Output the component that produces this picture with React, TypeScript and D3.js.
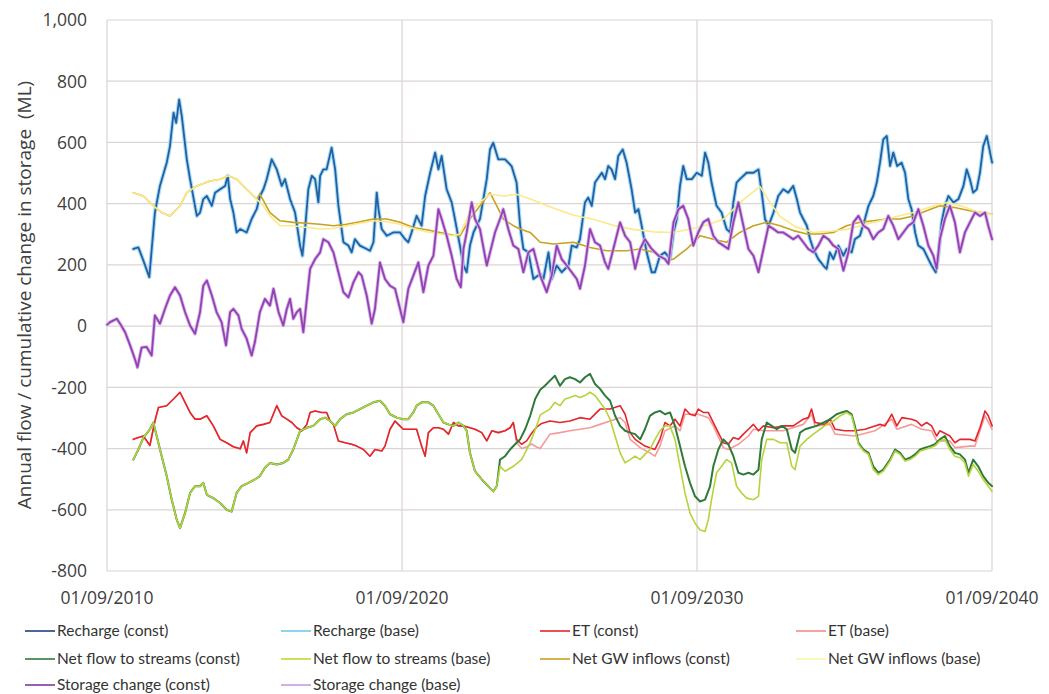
import * as d3 from 'd3';

type Pt = [number, number]; // [decimal year, ML]

// Recharge — the two scenarios overlap almost exactly
const rechargeConst: Pt[] = [
  [2011.56,252],[2011.73,257],[2011.90,214],[2012.10,160],[2012.29,371],[2012.46,458],[2012.69,534],[2012.80,588],[2012.92,697],[2013.01,664],[2013.11,740],[2013.20,686],[2013.37,545],[2013.48,480],[2013.71,360],[2013.82,371],[2013.93,415],[2014.05,425],[2014.22,393],[2014.33,436],[2014.50,447],[2014.67,458],[2014.76,491],[2014.84,415],[2014.95,371],[2015.06,306],[2015.18,317],[2015.40,306],[2015.57,350],[2015.74,382],[2015.85,425],[2015.97,447],[2016.08,480],[2016.25,545],[2016.42,512],[2016.59,458],[2016.70,480],[2016.87,415],[2017.04,371],[2017.21,263],[2017.29,230],[2017.38,317],[2017.49,447],[2017.61,491],[2017.72,480],[2017.83,404],[2017.89,491],[2018.00,512],[2018.11,512],[2018.28,583],[2018.40,512],[2018.51,393],[2018.68,274],[2018.85,263],[2018.96,241],[2019.07,284],[2019.24,263],[2019.47,252],[2019.58,246],[2019.70,274],[2019.81,436],[2019.87,382],[2019.98,317],[2020.15,295],[2020.37,306],[2020.60,306],[2020.77,284],[2020.88,274],[2020.99,306],[2021.16,360],[2021.33,328],[2021.45,425],[2021.62,501],[2021.79,567],[2021.90,512],[2022.01,556],[2022.18,447],[2022.35,404],[2022.46,350],[2022.63,263],[2022.75,198],[2022.86,176],[2022.97,263],[2023.09,306],[2023.31,350],[2023.54,480],[2023.65,577],[2023.76,599],[2023.93,545],[2024.16,545],[2024.38,523],[2024.55,469],[2024.67,328],[2024.78,252],[2024.95,241],[2025.12,154],[2025.35,170],[2025.46,154],[2025.63,241],[2025.74,154],[2025.91,198],[2026.08,176],[2026.31,198],[2026.42,263],[2026.59,257],[2026.70,284],[2026.87,404],[2026.98,420],[2027.10,393],[2027.21,469],[2027.44,501],[2027.55,480],[2027.66,523],[2027.77,512],[2027.89,480],[2028.00,556],[2028.15,577],[2028.28,534],[2028.45,447],[2028.57,371],[2028.68,382],[2028.79,328],[2028.96,241],[2029.13,176],[2029.24,176],[2029.41,230],[2029.58,241],[2029.75,219],[2029.87,306],[2029.98,350],[2030.09,458],[2030.20,523],[2030.32,480],[2030.49,480],[2030.66,501],[2030.83,491],[2030.94,567],[2031.05,534],[2031.16,469],[2031.33,393],[2031.50,371],[2031.67,317],[2031.79,306],[2031.90,404],[2032.01,469],[2032.12,480],[2032.35,501],[2032.58,501],[2032.75,512],[2032.86,436],[2032.97,350],[2033.09,328],[2033.26,371],[2033.42,425],[2033.59,447],[2033.76,436],[2033.93,458],[2034.05,415],[2034.16,371],[2034.27,350],[2034.39,328],[2034.50,284],[2034.61,252],[2034.78,219],[2034.95,198],[2035.06,187],[2035.17,241],[2035.29,219],[2035.46,263],[2035.63,230],[2035.74,252],[2035.91,241],[2036.02,284],[2036.19,295],[2036.36,350],[2036.48,393],[2036.64,425],[2036.76,469],[2036.87,534],[2036.98,610],[2037.10,621],[2037.21,523],[2037.32,567],[2037.45,523],[2037.60,534],[2037.72,501],[2037.83,415],[2037.94,382],[2038.06,306],[2038.17,263],[2038.34,252],[2038.51,219],[2038.62,198],[2038.76,176],[2038.85,230],[2038.96,339],[2039.07,393],[2039.19,425],[2039.36,404],[2039.53,415],[2039.70,458],[2039.81,512],[2039.92,480],[2040.03,436],[2040.15,447],[2040.26,501],[2040.37,588],[2040.49,621],[2040.67,534]
];
const rechargeBase: Pt[] = rechargeConst;

// ET — identical until late 2024, then the base run sits a little lower
const etShared: Pt[] = [
  [2011.56,-370],[2011.73,-364],[2011.90,-359],[2012.12,-390],[2012.29,-310],[2012.41,-266],[2012.69,-260],[2012.92,-238],[2013.14,-216],[2013.31,-249],[2013.48,-282],[2013.65,-304],[2013.82,-304],[2014.05,-293],[2014.27,-326],[2014.50,-370],[2014.72,-381],[2014.95,-394],[2015.18,-401],[2015.29,-375],[2015.40,-414],[2015.52,-348],[2015.74,-326],[2015.97,-321],[2016.19,-315],[2016.42,-260],[2016.59,-293],[2016.76,-304],[2016.93,-315],[2017.10,-332],[2017.27,-342],[2017.44,-321],[2017.55,-282],[2017.72,-277],[2017.94,-282],[2018.11,-282],[2018.23,-310],[2018.34,-321],[2018.51,-375],[2018.74,-381],[2018.96,-386],[2019.13,-392],[2019.36,-403],[2019.58,-425],[2019.75,-403],[2019.98,-408],[2020.09,-392],[2020.26,-337],[2020.43,-310],[2020.54,-321],[2020.71,-337],[2020.94,-337],[2021.16,-337],[2021.33,-392],[2021.45,-425],[2021.56,-348],[2021.73,-332],[2021.90,-332],[2022.07,-337],[2022.24,-353],[2022.41,-315],[2022.58,-326],[2022.75,-326],[2022.97,-332],[2023.14,-337],[2023.37,-348],[2023.54,-375],[2023.71,-342],[2023.93,-348],[2024.16,-342],[2024.33,-332],[2024.44,-315]
];
const etConstLate: Pt[] = [
  [2024.55,-370],[2024.72,-386],[2024.89,-375],[2025.06,-350],[2025.23,-330],[2025.40,-318],[2025.68,-310],[2026.02,-315],[2026.36,-310],[2026.70,-299],[2027.04,-304],[2027.38,-271],[2027.72,-271],[2028.06,-260],[2028.23,-288],[2028.40,-348],[2028.57,-370],[2028.90,-392],[2029.24,-403],[2029.41,-370],[2029.58,-315],[2029.75,-326],[2029.92,-304],[2030.09,-326],[2030.26,-271],[2030.43,-288],[2030.60,-293],[2030.71,-271],[2030.88,-282],[2031.05,-282],[2031.22,-315],[2031.39,-348],[2031.56,-381],[2031.73,-386],[2031.90,-364],[2032.07,-370],[2032.24,-353],[2032.41,-337],[2032.58,-321],[2032.75,-342],[2032.92,-326],[2033.26,-332],[2033.59,-326],[2033.93,-326],[2034.27,-304],[2034.44,-299],[2034.55,-271],[2034.67,-315],[2035.01,-321],[2035.18,-304],[2035.35,-337],[2035.68,-342],[2036.02,-342],[2036.36,-337],[2036.70,-326],[2036.87,-321],[2037.04,-326],[2037.27,-288],[2037.44,-326],[2037.61,-299],[2037.94,-304],[2038.11,-310],[2038.28,-326],[2038.45,-315],[2038.62,-326],[2038.79,-359],[2038.90,-342],[2039.24,-359],[2039.41,-381],[2039.58,-370],[2039.92,-370],[2040.09,-375],[2040.26,-332],[2040.43,-277],[2040.54,-293],[2040.67,-326]
];
const etBaseLate: Pt[] = [
  [2024.55,-380],[2024.72,-400],[2024.89,-395],[2025.06,-385],[2025.23,-395],[2025.35,-400],[2025.68,-353],[2026.02,-348],[2026.36,-342],[2026.70,-337],[2027.04,-332],[2027.38,-321],[2027.72,-310],[2028.06,-299],[2028.23,-315],[2028.40,-370],[2028.74,-397],[2029.07,-414],[2029.24,-425],[2029.41,-392],[2029.58,-342],[2029.92,-326],[2030.09,-342],[2030.26,-288],[2030.71,-288],[2031.05,-299],[2031.22,-326],[2031.56,-397],[2031.73,-403],[2032.07,-386],[2032.41,-359],[2032.58,-337],[2032.92,-342],[2033.59,-342],[2034.27,-321],[2034.55,-288],[2034.67,-326],[2035.18,-321],[2035.35,-353],[2036.02,-359],[2036.70,-342],[2037.27,-304],[2037.44,-337],[2037.94,-321],[2038.28,-337],[2038.62,-342],[2038.79,-375],[2039.24,-375],[2039.41,-397],[2039.92,-392],[2040.09,-392],[2040.26,-342],[2040.43,-293],[2040.67,-337]
];

// Net flow to streams — identical until late 2023
const netFlowShared: Pt[] = [
  [2011.56,-436],[2011.73,-403],[2011.90,-364],[2012.12,-337],[2012.24,-315],[2012.35,-359],[2012.52,-425],[2012.69,-490],[2012.86,-567],[2013.03,-633],[2013.14,-660],[2013.31,-611],[2013.48,-545],[2013.65,-523],[2013.82,-523],[2013.93,-512],[2014.05,-551],[2014.27,-562],[2014.50,-578],[2014.72,-600],[2014.89,-606],[2015.06,-545],[2015.23,-523],[2015.46,-512],[2015.68,-501],[2015.85,-490],[2016.02,-463],[2016.19,-447],[2016.42,-452],[2016.64,-447],[2016.81,-436],[2016.98,-403],[2017.21,-342],[2017.44,-332],[2017.66,-326],[2017.89,-304],[2018.06,-299],[2018.23,-310],[2018.40,-326],[2018.57,-304],[2018.79,-288],[2019.02,-282],[2019.24,-271],[2019.47,-260],[2019.70,-249],[2019.92,-244],[2020.09,-260],[2020.26,-288],[2020.49,-299],[2020.71,-304],[2020.88,-304],[2021.05,-282],[2021.16,-260],[2021.33,-249],[2021.56,-249],[2021.73,-260],[2021.90,-288],[2022.07,-315],[2022.24,-321],[2022.41,-326],[2022.58,-315],[2022.75,-326],[2022.86,-342],[2022.97,-414],[2023.14,-474],[2023.37,-501],[2023.59,-523],[2023.76,-540],[2023.88,-523]
];
const netFlowConstLate: Pt[] = [
  [2023.99,-436],[2024.16,-425],[2024.33,-403],[2024.50,-386],[2024.67,-370],[2024.84,-337],[2025.01,-293],[2025.18,-238],[2025.35,-208],[2025.51,-195],[2025.68,-178],[2025.85,-162],[2026.02,-195],[2026.19,-173],[2026.36,-167],[2026.53,-173],[2026.70,-184],[2026.87,-167],[2027.04,-156],[2027.21,-189],[2027.38,-205],[2027.55,-227],[2027.72,-244],[2027.89,-293],[2028.06,-326],[2028.23,-342],[2028.40,-348],[2028.57,-353],[2028.74,-370],[2028.90,-337],[2029.07,-293],[2029.24,-282],[2029.41,-277],[2029.58,-288],[2029.75,-282],[2029.92,-326],[2030.09,-392],[2030.26,-458],[2030.43,-512],[2030.60,-556],[2030.77,-573],[2030.94,-567],[2031.11,-523],[2031.22,-458],[2031.39,-403],[2031.56,-370],[2031.73,-386],[2031.90,-425],[2032.07,-479],[2032.24,-485],[2032.41,-479],[2032.58,-485],[2032.75,-469],[2032.86,-370],[2033.03,-315],[2033.20,-326],[2033.37,-337],[2033.54,-326],[2033.71,-337],[2033.88,-403],[2033.99,-414],[2034.16,-348],[2034.33,-337],[2034.50,-332],[2034.72,-326],[2034.95,-315],[2035.18,-304],[2035.40,-288],[2035.57,-282],[2035.74,-277],[2035.91,-288],[2036.02,-326],[2036.14,-381],[2036.31,-403],[2036.48,-414],[2036.64,-458],[2036.81,-479],[2036.98,-469],[2037.21,-436],[2037.38,-403],[2037.55,-414],[2037.72,-436],[2037.89,-430],[2038.06,-419],[2038.23,-403],[2038.40,-397],[2038.57,-392],[2038.73,-386],[2038.90,-370],[2039.07,-359],[2039.24,-392],[2039.41,-414],[2039.58,-419],[2039.75,-436],[2039.87,-479],[2040.03,-436],[2040.20,-458],[2040.37,-490],[2040.54,-512],[2040.67,-523]
];
const netFlowBaseLate: Pt[] = [
  [2023.99,-458],[2024.16,-474],[2024.44,-458],[2024.72,-436],[2025.01,-381],[2025.23,-326],[2025.35,-290],[2025.68,-271],[2025.85,-249],[2026.02,-260],[2026.19,-238],[2026.36,-233],[2026.53,-227],[2026.70,-233],[2026.87,-227],[2027.04,-216],[2027.21,-227],[2027.38,-249],[2027.55,-271],[2027.72,-304],[2027.89,-359],[2028.06,-414],[2028.23,-447],[2028.40,-436],[2028.57,-425],[2028.74,-436],[2028.90,-419],[2029.07,-403],[2029.24,-370],[2029.41,-342],[2029.58,-326],[2029.75,-326],[2029.92,-370],[2030.09,-458],[2030.26,-545],[2030.43,-611],[2030.60,-644],[2030.77,-666],[2030.94,-671],[2031.05,-633],[2031.16,-567],[2031.33,-479],[2031.50,-458],[2031.67,-436],[2031.84,-447],[2032.01,-523],[2032.18,-545],[2032.35,-562],[2032.58,-567],[2032.75,-556],[2032.86,-436],[2033.03,-370],[2033.26,-370],[2033.48,-381],[2033.71,-381],[2033.88,-458],[2033.99,-469],[2034.16,-392],[2034.39,-370],[2034.61,-353],[2034.84,-337],[2035.06,-321],[2035.29,-310],[2035.52,-293],[2035.74,-282],[2035.91,-293],[2036.02,-337],[2036.14,-386],[2036.31,-408],[2036.48,-419],[2036.64,-468],[2036.81,-485],[2036.98,-474],[2037.21,-441],[2037.38,-408],[2037.55,-419],[2037.72,-441],[2037.89,-436],[2038.06,-425],[2038.23,-408],[2038.40,-403],[2038.57,-397],[2038.73,-392],[2038.90,-375],[2039.07,-370],[2039.24,-403],[2039.41,-425],[2039.58,-430],[2039.75,-447],[2039.87,-490],[2040.03,-452],[2040.20,-474],[2040.37,-501],[2040.54,-523],[2040.67,-540]
];

// Net GW inflows
const gwConst: Pt[] = [
  [2011.56,436],[2011.90,425],[2012.24,393],[2012.52,371],[2012.80,360],[2013.14,393],[2013.37,436],[2013.71,458],[2014.16,474],[2014.50,480],[2014.78,491],[2015.06,480],[2015.40,447],[2015.74,415],[2015.85,431],[2016.19,371],[2016.53,344],[2016.98,339],[2017.44,336],[2017.89,333],[2018.34,328],[2018.79,333],[2019.24,341],[2019.70,350],[2020.15,350],[2020.60,339],[2021.05,322],[2021.50,315],[2021.96,306],[2022.41,297],[2022.63,295],[2022.97,350],[2023.31,393],[2023.65,436],[2023.88,393],[2024.10,350],[2024.44,328],[2024.67,317],[2025.01,306],[2025.35,274],[2025.80,268],[2026.48,274],[2027.04,257],[2027.61,246],[2028.28,246],[2028.74,252],[2029.19,241],[2029.64,214],[2029.87,219],[2030.32,252],[2030.77,295],[2031.22,284],[2031.67,274],[2032.12,306],[2032.58,328],[2033.03,339],[2033.48,328],[2033.93,312],[2034.39,301],[2034.84,301],[2035.29,306],[2035.74,328],[2036.19,339],[2036.64,344],[2037.10,350],[2037.55,350],[2038.00,360],[2038.45,377],[2038.90,393],[2039.36,388],[2039.92,377],[2040.67,366]
];
const gwBase: Pt[] = [
  [2011.56,436],[2011.90,425],[2012.24,393],[2012.52,371],[2012.80,360],[2013.14,393],[2013.37,436],[2013.71,458],[2014.16,474],[2014.50,480],[2014.78,491],[2015.06,480],[2015.40,447],[2015.74,415],[2015.97,393],[2016.19,360],[2016.53,328],[2016.98,328],[2017.44,322],[2017.89,317],[2018.34,319],[2018.79,328],[2019.24,336],[2019.70,344],[2020.15,341],[2020.60,333],[2021.05,319],[2021.50,308],[2021.96,301],[2022.41,295],[2022.63,301],[2022.97,371],[2023.31,404],[2023.65,431],[2024.10,425],[2024.55,431],[2025.01,415],[2025.68,390],[2026.48,362],[2027.14,349],[2027.80,330],[2028.50,316],[2029.20,308],[2029.85,306],[2030.50,318],[2031.00,330],[2031.55,348],[2032.20,410],[2032.80,456],[2033.10,410],[2033.48,358],[2034.00,325],[2034.60,306],[2035.20,310],[2035.75,316],[2036.50,335],[2037.30,355],[2038.00,371],[2038.60,390],[2039.14,404],[2039.70,390],[2040.26,371],[2040.67,365]
];

// Storage change — the two scenarios overlap almost exactly
const storageConst: Pt[] = [
  [2010.67,5],[2010.77,13],[2011.00,24],[2011.11,8],[2011.28,-20],[2011.45,-63],[2011.62,-110],[2011.70,-135],[2011.84,-70],[2012.01,-68],[2012.18,-96],[2012.29,35],[2012.46,8],[2012.63,56],[2012.80,100],[2012.97,127],[2013.14,100],[2013.31,46],[2013.48,2],[2013.65,-25],[2013.82,46],[2013.93,132],[2014.05,149],[2014.22,100],[2014.38,46],[2014.55,13],[2014.70,-63],[2014.84,46],[2014.95,56],[2015.12,35],[2015.23,-9],[2015.40,-41],[2015.57,-96],[2015.68,-52],[2015.85,46],[2016.02,89],[2016.19,67],[2016.31,122],[2016.48,46],[2016.64,2],[2016.76,56],[2016.87,89],[2016.98,24],[2017.10,46],[2017.21,56],[2017.32,-20],[2017.44,89],[2017.55,187],[2017.72,219],[2017.89,241],[2018.00,284],[2018.17,274],[2018.34,241],[2018.51,176],[2018.68,111],[2018.85,94],[2019.02,143],[2019.19,176],[2019.30,165],[2019.47,100],[2019.64,8],[2019.75,56],[2019.92,208],[2020.09,154],[2020.26,132],[2020.43,122],[2020.60,56],[2020.71,13],[2020.88,122],[2021.05,165],[2021.22,208],[2021.39,111],[2021.56,198],[2021.73,230],[2021.90,382],[2022.01,350],[2022.18,295],[2022.35,230],[2022.52,154],[2022.66,127],[2022.75,252],[2022.86,306],[2023.03,404],[2023.14,350],[2023.31,317],[2023.54,198],[2023.71,263],[2023.82,306],[2023.99,350],[2024.10,382],[2024.27,317],[2024.44,263],[2024.61,252],[2024.78,176],[2024.95,241],[2025.12,252],[2025.35,165],[2025.57,111],[2025.74,165],[2025.91,263],[2026.08,219],[2026.25,198],[2026.42,176],[2026.59,154],[2026.70,122],[2026.87,198],[2027.04,317],[2027.21,274],[2027.38,263],[2027.55,208],[2027.66,187],[2027.83,252],[2028.06,339],[2028.23,295],[2028.40,274],[2028.57,187],[2028.74,252],[2028.90,284],[2029.13,252],[2029.36,230],[2029.58,219],[2029.70,203],[2029.87,339],[2030.04,382],[2030.20,393],[2030.37,350],[2030.54,263],[2030.71,306],[2030.88,339],[2031.05,350],[2031.22,295],[2031.39,274],[2031.56,263],[2031.73,252],[2031.90,339],[2032.07,404],[2032.24,328],[2032.41,252],[2032.58,230],[2032.75,176],[2032.92,252],[2033.09,328],[2033.26,317],[2033.42,306],[2033.59,306],[2033.76,295],[2033.93,284],[2034.10,295],[2034.27,274],[2034.44,252],[2034.61,241],[2034.78,263],[2034.95,295],[2035.12,284],[2035.29,263],[2035.46,252],[2035.63,181],[2035.80,241],[2035.97,339],[2036.14,360],[2036.31,328],[2036.48,317],[2036.64,284],[2036.81,306],[2036.98,317],[2037.15,360],[2037.32,328],[2037.49,284],[2037.66,306],[2037.83,328],[2038.00,339],[2038.17,382],[2038.34,328],[2038.51,263],[2038.68,230],[2038.79,187],[2038.90,284],[2039.07,350],[2039.24,393],[2039.41,339],[2039.58,241],[2039.75,306],[2039.92,339],[2040.09,371],[2040.26,360],[2040.43,371],[2040.54,328],[2040.67,284]
];
const storageBase: Pt[] = storageConst;

const yTicks = [-800, -600, -400, -200, 0, 200, 400, 600, 800, 1000];
const xTickYears = [2010, 2020, 2030, 2040];

const legendItems = [
  { label: 'Recharge (const)', color: '#1f3f7f' },
  { label: 'Recharge (base)', color: '#6ccbee' },
  { label: 'ET (const)', color: '#e3262b' },
  { label: 'ET (base)', color: '#f58a8a' },
  { label: 'Net flow to streams (const)', color: '#2f7a3a' },
  { label: 'Net flow to streams (base)', color: '#c2d92c' },
  { label: 'Net GW inflows (const)', color: '#c9a020' },
  { label: 'Net GW inflows (base)', color: '#fff2a8' },
  { label: 'Storage change (const)', color: '#7a35a5' },
  { label: 'Storage change (base)', color: '#c49bdc' },
];

const toDate = (y: number) => {
  const yr = Math.floor(y);
  const a = new Date(yr, 0, 1).getTime();
  const b = new Date(yr + 1, 0, 1).getTime();
  return new Date(a + (y - yr) * (b - a));
};

const fmt = d3.formatLocale({ decimal: '.', thousands: ',', grouping: [3], currency: ['', ''], minus: '-' }).format(',');

export default function App() {
  const width = 1049;
  const height = 694;
  const x = d3.scaleTime().domain([new Date(2010, 8, 1), new Date(2040, 8, 1)]).range([107, 992]);
  const y = d3.scaleLinear().domain([-800, 1000]).range([571, 20]);
  const line = d3.line<Pt>().x(d => x(toDate(d[0]))).y(d => y(d[1]));

  const series = [
    { data: rechargeBase, color: '#a6dcf4', w: 4 },
    { data: rechargeConst, color: '#245ea3', w: 1.8 },
    { data: gwConst, color: '#c9a020', w: 1.6 },
    { data: gwBase, color: '#fbe98a', w: 1.6 },
    { data: [...etShared, ...etBaseLate], color: '#f59a9a', w: 1.6 },
    { data: [...etShared, ...etConstLate], color: '#e3262b', w: 1.6 },
    { data: [...netFlowShared, ...netFlowConstLate], color: '#2f7a3a', w: 2 },
    { data: [...netFlowShared, ...netFlowBaseLate], color: '#b4d43a', w: 1.6 },
    { data: storageBase, color: '#d6b8e6', w: 3.6 },
    { data: storageConst, color: '#9340b4', w: 1.8 },
  ];

  const legendCols = [25, 281, 540, 796];
  const legendRows = [631, 659, 685];
  const font = '"Open Sans", sans-serif';
  const txt = '#404040';

  return (
    <div style={{ position: 'absolute', left: 0, top: 0 }}>
      <svg width={width} height={height} style={{ display: 'block', background: '#fff' }}>
        {yTicks.map(t => (
          <line key={'gy' + t} x1={107} x2={992} y1={y(t)} y2={y(t)} stroke="#dcd4d4" strokeWidth={1.2} />
        ))}
        {xTickYears.map(yr => (
          <line key={'gx' + yr} x1={x(new Date(yr, 8, 1))} x2={x(new Date(yr, 8, 1))} y1={y(1000)} y2={y(-800)} stroke="#dcd4d4" strokeWidth={1.2} />
        ))}

        {series.map((s, i) => (
          <path key={i} d={line(s.data) || ''} fill="none" stroke={s.color} strokeWidth={s.w} strokeLinejoin="round" strokeLinecap="round" />
        ))}

        {yTicks.map(t => (
          <text key={'ty' + t} x={87} y={y(t)} dy="0.36em" textAnchor="end" fontFamily={font} fontSize={17.5} fill={txt}>
            {fmt(t)}
          </text>
        ))}
        {xTickYears.map(yr => (
          <text key={'tx' + yr} x={x(new Date(yr, 8, 1))} y={604} textAnchor="middle" fontFamily={font} fontSize={17.5} fill={txt}>
            {`01/09/${yr}`}
          </text>
        ))}
        <text transform="translate(31,295) rotate(-90)" textAnchor="middle" fontFamily={font} fontSize={19} fill={txt} style={{ whiteSpace: 'pre' }}>
          {'Annual flow / cumulative change in storage  (ML)'}
        </text>

        {legendItems.map((it, i) => {
          const cx = legendCols[i % 4];
          const cy = legendRows[Math.floor(i / 4)];
          return (
            <g key={it.label}>
              <line x1={cx} x2={cx + 30} y1={cy} y2={cy} stroke={it.color} strokeWidth={1.6} />
              <text x={cx + 32} y={cy} dy="0.32em" fontFamily="Lato, sans-serif" fontSize={15.5} fill="#333">
                {it.label}
              </text>
            </g>
          );
        })}
      </svg>
    </div>
  );
}
